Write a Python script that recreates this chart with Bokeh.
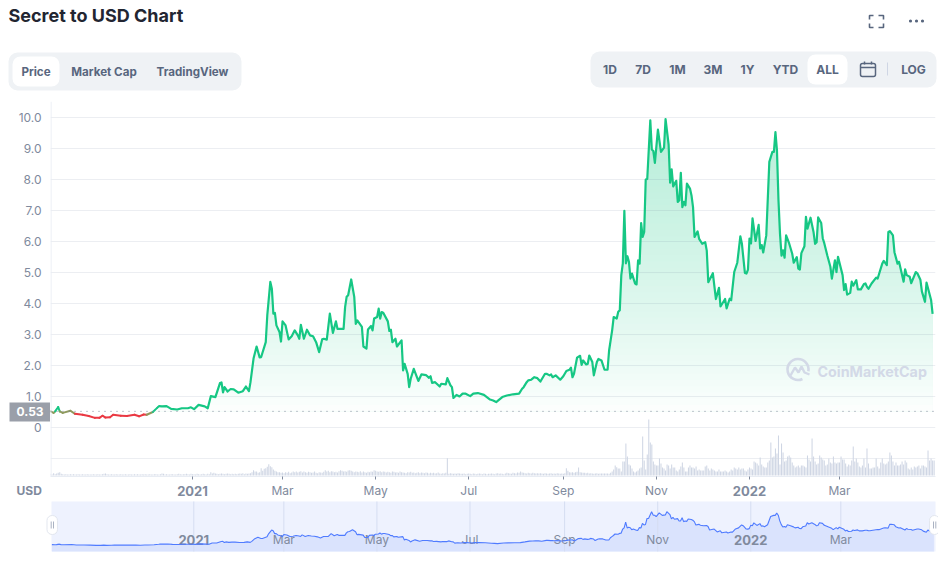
import math
import numpy as np
from bokeh.core.properties import value
from bokeh.embed import file_html
from bokeh.layouts import column, row
from bokeh.models import FixedTicker, Label, Range1d, Span
from bokeh.plotting import figure
from bokeh.resources import INLINE

# days are counted from 2021-01-01
days = [-93, -91, -90, -88, -87, -85, -80, -77, -72, -68, -64, -61, -59, -57, -54, -52, -47, -43, -38, -35, -32, -30, -26,
        -23, -22, -20, -17, -14, -10, -7, -3, -1, 1, 4, 8, 10, 12, 15, 18, 19, 20, 21, 23, 25, 27, 30, 33, 35, 37, 38, 40,
        42, 44, 45, 48, 49, 51, 52, 53, 54, 55, 57, 58, 59, 61, 63, 65, 67, 69, 70, 71, 73, 75, 77, 79, 81, 83, 85, 86, 88,
        90, 92, 94, 95, 99, 100, 101, 102, 104, 106, 107, 108, 111, 112, 114, 115, 117, 118, 119, 121, 122, 123, 124, 125,
        128, 129, 130, 131, 133, 134, 137, 138, 139, 141, 142, 143, 145, 148, 150, 153, 155, 156, 157, 159, 162, 163, 166,
        167, 169, 170, 171, 173, 175, 177, 179, 182, 184, 187, 191, 195, 197, 199, 203, 206, 210, 214, 216, 217, 219, 220,
        222, 224, 226, 228, 231, 232, 234, 235, 236, 238, 241, 243, 245, 247, 248, 249, 250, 252, 254, 255, 256, 258, 259,
        260, 262, 263, 265, 266, 268, 270, 272, 273, 274, 275, 276, 278, 279, 280, 281, 282, 283, 284, 285, 286, 287, 288,
        290, 291, 292, 293, 294, 295, 296, 297, 298, 300, 301, 302, 303, 305, 307, 309, 310, 312, 313, 314, 315, 317, 318,
        319, 320, 321, 322, 323, 324, 326, 327, 328, 329, 331, 332, 334, 336, 337, 338, 341, 343, 345, 346, 349, 350, 352,
        353, 355, 357, 359, 360, 362, 363, 364, 365, 366, 367, 369, 371, 372, 373, 374, 376, 378, 380, 381, 382, 383, 384,
        385, 386, 387, 388, 389, 391, 393, 394, 396, 397, 398, 399, 401, 402, 403, 405, 407, 408, 409, 410, 412, 413, 414,
        416, 418, 419, 421, 422, 423, 426, 427, 428, 429, 431, 432, 433, 435, 436, 438, 440, 441, 442, 443, 445, 448, 449,
        452, 453, 455, 456, 457, 459, 460, 462, 463, 466, 467, 468, 470, 471, 474, 475, 477, 478, 480, 481, 484, 485]
prices = [.53, .48, .53, .67, .53, .48, .55, .45, .42, .38, .32, .32, .39, .33, .34, .42, .39, .38, .42, .37, .43, .42, .51,
          .65, .70, .69, .70, .61, .59, .63, .63, .66, .60, .74, .69, .63, 1.02, .99, 1.44, 1.46, 1.14, 1.31, 1.17, 1.25, 1.24, 1.13, 1.18, 1.33, 1.18, 1.47, 2.23,
          2.62, 2.27, 2.28, 2.76, 3.62, 4.70, 4.48, 3.68, 3.70, 3.30, 3.09, 2.78, 3.43, 3.30, 2.85, 2.95, 3.14, 2.98, 2.87, 3.32, 2.87, 3.16, 2.98, 2.95, 2.76, 2.44, 2.85, 2.87, 2.84,
          3.68, 3.06, 3.43, 3.19, 3.19, 3.89, 4.22, 4.27, 4.78, 4.22, 3.35, 3.46, 3.25, 2.62, 2.55, 3.17, 3.28, 3.14, 3.52, 3.57, 3.84, 3.52, 3.73, 3.71,
          3.43, 3.12, 3.16, 2.76, 2.87, 2.62, 2.82, 1.85, 2.06, 1.74, 1.31, 1.58, 1.90, 1.51, 1.72, 1.70, 1.61, 1.66, 1.45, 1.47, 1.33, 1.42, 1.40,
          1.60, 1.37, 1.31, .96, 1.06, 1.01, 1.10, 1.10, 1.02, 1.10, 1.12, 1.06, .91, .88, .83, .99, 1.04, 1.08, 1.10, 1.26, 1.31, 1.47, 1.53,
          1.55, 1.63, 1.60, 1.49, 1.74, 1.74, 1.69, 1.72, 1.63, 1.69, 1.55, 1.66, 1.83, 1.87, 1.94, 1.63, 1.74, 2.26, 2.32, 2.03, 2.17, 2.04, 2.06,
          2.33, 2.12, 1.69, 2.12, 2.22, 2.17, 1.87, 1.87, 2.49, 2.82, 3.14, 3.57, 3.52, 3.74, 3.79, 4.92, 5.30, 6.99, 5.30, 5.53, 5.35, 4.81, 4.97,
          4.65, 4.62, 5.40, 5.29, 6.60, 6.15, 6.31, 8.00, 8.02, 9.91, 8.97, 8.92, 8.54, 9.61, 8.89, 9.03, 9.95, 9.13, 7.90, 8.33, 7.78, 7.96, 7.28,
          7.33, 8.22, 7.11, 7.28, 7.17, 7.87, 7.71, 7.49, 7.11, 6.15, 6.33, 6.09, 5.93, 5.98, 5.71, 4.69, 4.98, 4.15, 4.51, 3.91, 4.15, 3.85, 4.16,
          4.11, 5.02, 5.32, 6.17, 5.94, 4.99, 4.97, 5.10, 6.10, 5.94, 6.75, 6.02, 6.54, 5.78, 5.89, 5.65, 6.20, 8.57, 8.89, 8.89, 9.53, 8.94, 7.33,
          6.25, 5.55, 5.72, 5.48, 6.20, 5.94, 5.61, 5.32, 5.50, 5.13, 5.10, 5.63, 5.85, 6.80, 6.42, 6.77, 6.30, 5.93, 5.98, 6.78, 6.60, 6.11, 5.95,
          5.55, 5.19, 4.81, 5.40, 5.02, 5.51, 4.92, 4.44, 4.63, 4.29, 4.35, 4.71, 4.58, 4.76, 4.46, 4.46, 4.63, 4.65, 4.54, 4.48, 4.65, 4.84, 4.81,
          5.29, 5.38, 5.24, 6.31, 6.34, 6.20, 5.66, 5.29, 5.35, 4.71, 5.11, 4.92, 4.87, 4.66, 5.02, 4.98, 4.77, 4.39, 4.06, 4.68, 4.12, 3.67]

# daily traded volume, millions of USD, from day -93
volume = [5, 3, 7, 4, 6, 8, 10, 5, 4, 3,
          4, 3, 3, 4, 3, 4, 3, 3, 4, 3,
          3, 4, 3, 3, 4, 3, 3, 3, 4, 3,
          3, 4, 3, 3, 4, 5, 6, 4, 3, 3,
          4, 3, 3, 4, 3, 3, 4, 3, 3, 4,
          3, 3, 4, 3, 3, 4, 3, 4, 3, 3,
          4, 3, 4, 3, 3, 4, 3, 3, 4, 4,
          3, 3, 4, 6, 5, 3, 4, 3, 3, 4,
          4, 3, 3, 4, 5, 4, 3, 4, 4, 5,
          4, 3, 5, 4, 4, 3, 5, 4, 3, 4,
          5, 4, 3, 5, 4, 10, 6, 8, 6, 5,
          4, 5, 6, 5, 4, 5, 6, 5, 4, 5,
          4, 5, 4, 5, 6, 5, 7, 4, 6, 5,
          6, 7, 10, 16, 12, 12, 8, 10, 22, 14,
          20, 22, 26, 34, 28, 25, 18, 14, 12, 10,
          10, 8, 9, 7, 10, 8, 11, 7, 9, 12,
          10, 12, 9, 11, 13, 9, 12, 10, 8, 11,
          10, 8, 9, 12, 8, 7, 10, 9, 8, 11,
          16, 12, 14, 10, 13, 12, 10, 11, 9, 13,
          16, 14, 12, 13, 11, 15, 16, 14, 12, 10,
          12, 11, 10, 13, 9, 12, 10, 8, 11, 10,
          12, 11, 16, 14, 12, 11, 13, 10, 12, 11,
          9, 11, 10, 8, 12, 11, 9, 10, 8, 12,
          10, 9, 8, 7, 10, 9, 11, 8, 9, 7,
          8, 10, 7, 9, 8, 7, 9, 8, 6, 8,
          7, 8, 6, 7, 9, 6, 5, 7, 6, 8,
          52, 5, 7, 6, 5, 6, 5, 7, 6, 5,
          5, 6, 4, 5, 6, 5, 4, 6, 5, 4,
          5, 6, 5, 4, 6, 5, 4, 5, 5, 6,
          5, 4, 6, 7, 5, 6, 5, 4, 6, 8,
          7, 6, 5, 8, 7, 6, 9, 8, 12, 9,
          8, 7, 6, 8, 7, 6, 8, 7, 6, 7,
          6, 7, 6, 5, 7, 6, 5, 6, 7, 5,
          6, 5, 7, 6, 5, 6, 5, 7, 22, 14,
          10, 9, 10, 8, 10, 11, 24, 10, 9, 8,
          8, 7, 8, 6, 7, 6, 5, 6, 7, 5, 6,
          6, 6, 6, 6, 6, 5, 8, 12, 18, 30, 25, 21, 21, 12, 42, 42, 96, 57, 33, 30, 21, 12, 9, 12, 15, 21, 24,
          117, 45, 18, 63, 168, 99, 93, 42, 33, 30, 30, 51, 36, 24, 21, 15, 33, 30, 21, 33, 24, 24, 15, 12, 18,
          27, 39, 24, 12, 12, 24, 30, 24, 24, 21, 27, 15, 18, 15, 15, 15, 27, 30, 21, 15, 21, 18, 15, 12, 12, 18,
          12, 12, 12, 15, 12, 9, 12, 18, 15, 24, 21, 18, 24, 18, 21, 21, 15, 12, 18, 24, 21, 18, 42, 39, 36, 30,
          54, 33, 27, 24, 24, 39, 45, 99,
          54, 57, 81, 66, 120, 33, 96, 69, 42, 45, 57, 60, 54, 39, 30, 24, 27, 30, 24, 30, 30, 27, 24, 60, 48, 42,
          111, 57, 42, 33, 36, 60, 54, 48, 45, 30, 33, 51, 39, 36, 57, 39, 36, 39, 39, 57, 48, 48, 36, 27, 33, 30,
          45, 87, 42, 51, 39, 27, 24, 30, 51, 24, 81, 36, 21, 21, 24, 24, 51, 27, 21, 39, 51, 36, 33, 36, 42, 69,
          60, 42, 30, 39, 30, 30, 33, 42, 33, 45, 39, 21, 18, 24, 18, 27, 24, 27, 30, 21, 30, 30, 27, 24, 75, 45,
          51, 45, 45]

month_days = [0, 59, 120, 181, 243, 304, 365, 424]
month_labels = ["2021", "Mar", "May", "Jul", "Sep", "Nov", "2022", "Mar"]
price_ticks = [-1, 0, 1, 2, 3, 4, 5, 6, 7, 8, 9, 10]
price_labels = ["", "0", "1.0", "2.0", "3.0", "4.0", "5.0", "6.0", "7.0", "8.0", "9.0", "10.0"]
baseline = 0.53
range_buttons = ["1D", "7D", "1M", "3M", "1Y", "YTD", "ALL"]
tabs = ["Price", "Market Cap", "TradingView"]

GREEN = "#16c784"
RED = "#ea3943"
GREY = "#808a9d"
SLATE = "#58667e"
FONT = value("Inter")


def mix(alpha, rgb=(22, 199, 132)):
    return "#%02x%02x%02x" % tuple(int(round(255 + (c - 255) * alpha)) for c in rgb)


def clipped(level):
    xs, ys = [], []
    for x0, y0, x1, y1 in zip(days[:-1], prices[:-1], days[1:], prices[1:]):
        xs.append(x0)
        ys.append(max(min(y0, level), baseline))
        for cut in (level, baseline):
            if (y0 - cut) * (y1 - cut) < 0:
                xs.append(x0 + (cut - y0) / (y1 - y0) * (x1 - x0))
                ys.append(cut)
    xs.append(days[-1])
    ys.append(max(min(prices[-1], level), baseline))
    return xs, ys


# ---------- header ----------
head = figure(width=938, height=101, x_range=Range1d(0, 938), y_range=Range1d(101, 0),
              output_backend="svg", toolbar_location=None, min_border=0, frame_align=False)
head.axis.visible = False
head.grid.visible = False
head.outline_line_color = None

head.quad(left=[8, 590], right=[241, 936], top=[52, 51], bottom=[90, 87], fill_color="#eff2f5",
          line_color=None, border_radius=9)
head.quad(left=[12, 807], right=[59, 847], top=[56, 54], bottom=[86, 84], fill_color="white",
          line_color=None, border_radius=8)
head.text(x=[8], y=[15], text=["Secret to USD Chart"], text_font=FONT, text_font_style="bold",
          text_font_size="18px", text_color="#222531", text_baseline="middle")
head.text(x=[35.5, 103.5, 192], y=[71, 71, 71], text=tabs, text_font=FONT, text_font_style="bold",
          text_font_size="11.6px", text_color=SLATE, text_align="center", text_baseline="middle")
head.text(x=[609.5, 642.5, 677, 712.5, 747, 785, 827], y=[69] * 7, text=range_buttons, text_font=FONT,
          text_font_style="bold", text_font_size="12px", text_color=SLATE, text_align="center",
          text_baseline="middle")
head.text(x=[913], y=[69], text=["LOG"], text_font=FONT, text_font_style="bold", text_font_size="12px",
          text_color=SLATE, text_align="center", text_baseline="middle")
# calendar icon and divider
head.quad(left=[860], right=[875], top=[63], bottom=[76], fill_color=None, line_color=SLATE, line_width=1.5,
          border_radius=2)
head.multi_line(xs=[[860, 875], [864, 864], [871, 871]], ys=[[67, 67], [61, 64], [61, 64]], line_color=SLATE,
                line_width=1.5)
head.segment(x0=[887], x1=[887], y0=[62], y1=[75], line_color="#cfd6e4", line_width=1)
# full-screen brackets and menu dots
head.multi_line(xs=[[869, 869, 873], [878, 883, 883], [869, 869, 873], [878, 883, 883]],
                ys=[[19, 15, 15], [15, 15, 19], [23, 27, 27], [27, 27, 23]],
                line_color=SLATE, line_width=1.6)
head.scatter(x=[910, 916, 922], y=[20.5, 20.5, 20.5], size=3.2, marker="circle", fill_color=SLATE, line_color=None)

# ---------- price and volume ----------
PX_PER_DAY = 1.526
X = lambda px: (px - 192) / PX_PER_DAY
Y = lambda py: (427.3 - py) / 31.03

MAIN_H = 382
main = figure(width=888, height=MAIN_H, x_range=Range1d(X(50), X(935)), y_range=Range1d(Y(476), Y(101)),
              output_backend="svg", toolbar_location=None, min_border_left=0, min_border_right=3,
              min_border_top=0, min_border_bottom=7, frame_align=False)
main.outline_line_color = None
main.xgrid.visible = False
main.yaxis.visible = False
main.ygrid.ticker = FixedTicker(ticks=price_ticks)
main.ygrid.grid_line_color = "#6f7f9c"
main.ygrid.grid_line_alpha = 0.13
main.ygrid.level = "underlay"

main.xaxis.ticker = FixedTicker(ticks=month_days)
main.xaxis.major_label_overrides = {d: " " for d in month_days}
main.xaxis.major_label_text_font_size = "1px"
main.xaxis.major_label_standoff = 0
main.xaxis.major_tick_in = 0
main.xaxis.major_tick_out = 3
main.xaxis.major_tick_line_color = GREY
main.xaxis.minor_tick_line_color = None
main.xaxis.axis_line_color = "#e8ecf3"

main.add_layout(Span(location=X(50.5), dimension="height", line_color="#e8ecf3", line_width=1))

# gradient area: stacked opaque fills from the strongest tone down
levels = np.linspace(10.0, baseline, 48)
for lev in levels:
    t = (lev - baseline) / (10.0 - baseline)
    xs, ys = clipped(lev)
    r = main.varea(x=xs, y1=[baseline] * len(xs), y2=ys, fill_color=mix(0.31 * t ** 0.8))
    r.level = "image"

# volume bars share the frame: one gridline step equals 93 million USD
vol_days = np.arange(-93, -93 + len(volume))
base_y = Y(475)
main.vbar(x=vol_days, width=0.68, bottom=base_y, top=[base_y + v / 93 for v in volume],
          fill_color="#cfd6e4", line_color=None)

main.add_layout(Span(location=baseline, dimension="width", line_color=GREY, line_dash="1 5", line_width=1))

# watermark
WM = "#d3d9e7"
main.add_layout(Label(x=X(817), y=Y(371), text="CoinMarketCap", text_font="Inter", text_font_style="bold",
                      text_font_size="14.3px", text_color=WM, text_baseline="middle", text_align="left"))
main.arc(x=[X(797.5)], y=[Y(369)], radius=10.5, radius_units="screen", start_angle=math.radians(-10),
         end_angle=math.radians(295), line_color=WM, line_width=2.6)
main.line(x=[X(p) for p in (790, 794.5, 798, 801, 804, 809)], y=[Y(p) for p in (375, 367, 372, 366, 372, 374)],
          line_color=WM, line_width=2.4)

# price line: red below the opening price, brown on the crossing, green above
head_n = next(i for i, d in enumerate(days) if d > -23)
seg_x, seg_y, seg_c = [], [], []
for i in range(head_n):
    m = (prices[i] + prices[i + 1]) / 2
    seg_x.append([days[i], days[i + 1]])
    seg_y.append([prices[i], prices[i + 1]])
    seg_c.append(GREEN if m >= 0.57 else ("#8f9a5e" if m >= 0.45 else RED))
main.multi_line(xs=seg_x, ys=seg_y, line_color=seg_c, line_width=2, line_cap="round")
main.line(x=days[head_n:], y=prices[head_n:], line_color=GREEN, line_width=2.2, line_join="round")

# ---------- left strip: price labels and the opening-price tag ----------
strip = figure(width=50, height=MAIN_H, x_range=Range1d(0, 50), y_range=Range1d(Y(101 + MAIN_H), Y(101)),
               output_backend="svg", toolbar_location=None, min_border=0, frame_align=False)
strip.axis.visible = False
strip.grid.visible = False
strip.outline_line_color = None
strip.text(x=[41] * len(price_ticks), y=price_ticks, text=price_labels, text_font=FONT, text_font_size="12px",
           text_color=GREY, text_align="right", text_baseline="middle")
strip.quad(left=[9], right=[50], top=[Y(402)], bottom=[Y(421)], fill_color="#9a9fa9", line_color=None)
strip.text(x=[29.5], y=[baseline], text=["0.53"], text_font=FONT, text_font_style="bold", text_font_size="12px",
           text_color="white", text_align="center", text_baseline="middle")

# ---------- navigator, with the date labels above it ----------
NX = lambda px: (px - 193.3) / PX_PER_DAY
NY = lambda py: (546 - py) / 3.5
NAV_TOP = 101 + MAIN_H
nav = figure(width=938, height=561 - NAV_TOP, x_range=Range1d(NX(0), NX(938)), y_range=Range1d(NY(561), NY(NAV_TOP)),
             output_backend="svg", toolbar_location=None, min_border=0, frame_align=False)
nav.axis.visible = False
nav.grid.visible = False
nav.outline_line_color = None
nav.quad(left=[NX(51)], right=[NX(935)], top=[NY(501)], bottom=[NY(551)], fill_color="#eef2fe", line_color=None)
nav.varea(x=days, y1=[NY(551)] * len(days), y2=prices, fill_color="#dae3fd")
nav.segment(x0=month_days, x1=month_days, y0=[NY(551)] * len(month_days), y1=[NY(501)] * len(month_days),
            line_color="#d5ddf1", line_width=1)
weights = ["bold" if lab.isdigit() else "normal" for lab in month_labels]
for style in ("normal", "bold"):
    xs = [d for d, w in zip(month_days, weights) if w == style]
    ts = [lab for lab, w in zip(month_labels, weights) if w == style]
    size = "13px" if style == "bold" else "12px"
    nav.text(x=xs, y=[NY(539)] * len(xs), text=ts, text_font=FONT, text_font_style=style,
             text_font_size=size, text_color=GREY, text_align="center", text_baseline="middle")
    # axis captions for the price chart: same dates, shifted onto that chart's scale
    nav.text(x=[d - 1.3 / PX_PER_DAY for d in xs], y=[NY(490)] * len(xs), text=ts, text_font=FONT,
             text_font_style=style, text_font_size=size, text_color=GREY, text_align="center",
             text_baseline="middle")
nav.text(x=[NX(16)], y=[NY(490)], text=["USD"], text_font=FONT, text_font_style="bold", text_font_size="12px",
         text_color=GREY, text_baseline="middle")
nav.line(x=days, y=prices, line_color="#4f7bff", line_width=1.1)
nav.quad(left=[NX(46.5), NX(929)], right=[NX(57), NX(939)], top=[NY(515)] * 2, bottom=[NY(534)] * 2,
         fill_color="white", line_color="#e3e7ef", line_width=1, border_radius=5)
nav.segment(x0=[NX(50.7), NX(53), NX(933), NX(935.3)], x1=[NX(50.7), NX(53), NX(933), NX(935.3)],
            y0=[NY(521)] * 4, y1=[NY(528)] * 4, line_color="#aab2c2", line_width=1)

page = column(head, row(strip, main, spacing=0), nav, spacing=0)
open("out.html", "w").write(file_html(page, INLINE))
